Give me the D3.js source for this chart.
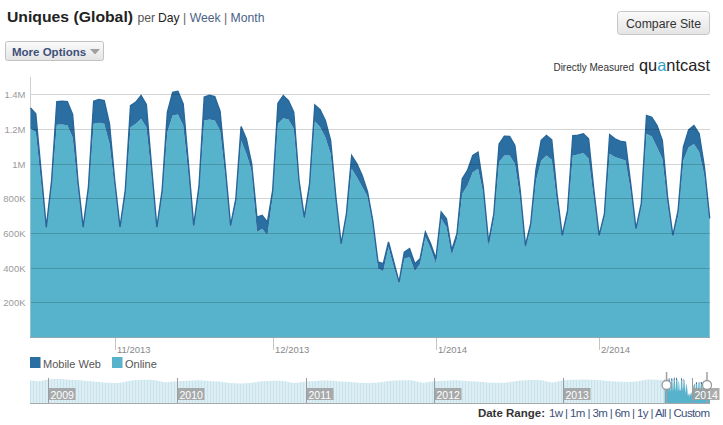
<!DOCTYPE html>
<html><head><meta charset="utf-8">
<script src="https://cdn.jsdelivr.net/npm/d3@7"></script>
<style>
body{margin:0;background:#fff;font-family:Arial,"Liberation Sans",sans-serif;}
svg{display:block}
</style></head><body>
<svg id="c" width="723" height="425"></svg>
<script>
// ---------- DATA ----------
const startDay = [2013, 9, 16]; // 16 Oct 2013, one value per day
const onlineK = [1201,1182,900,615,860,1224,1226,1222,1153,860,
618,830,1230,1236,1230,1115,865,618,815,1210,
1230,1259,1210,930,618,815,1182,1278,1284,1220,
940,625,835,1249,1255,1249,1191,930,628,770,
1134,1057,961,606,625,586,810,1230,1262,1255,
1201,870,673,850,1245,1211,1153,1057,780,528,
690,970,922,865,810,650,395,380,519,404,
308,452,461,380,423,577,509,423,682,634,
471,567,826,874,951,970,830,520,680,1009,
1047,1047,999,800,510,630,900,1018,1047,1022,
780,577,700,1047,1053,1061,1028,800,576,690,
1057,1038,1028,1018,840,615,745,1172,1157,1095,
1028,770,576,700,1018,1095,1114,1067,930,668];
const mobileWebK = [121,106,60,19,40,134,134,136,131,43,
16,35,130,134,134,115,38,16,31,125,
125,134,131,50,16,31,115,134,134,125,
59,19,35,135,140,138,112,50,16,27,
80,86,39,86,77,77,36,119,131,109,
96,33,19,34,94,101,96,77,27,10,
20,77,77,67,30,23,38,43,29,29,
9,38,49,43,29,29,29,29,39,48,
29,29,87,87,96,96,35,28,31,105,
112,110,106,46,19,24,65,116,116,116,
46,9,30,114,111,111,115,46,10,20,
111,105,102,106,44,10,24,106,111,125,
106,37,10,30,77,100,106,105,50,16];
const yTickValues = [200,400,600,800,1000,1200,1400];
const yTickLabels = ["200K","400K","600K","800K","1M","1.2M","1.4M"];
const seriesNames = ["Mobile Web","Online"];
// navigator history (monthly levels, K), Nov 2008 .. Sep 2013
const navStart = [2008, 10, 1];
const navHistoryK = [1250,1200,
1300,1320,1280,1250,1200,1150,1100,1150,1250,1280,1260,1150,
1200,1230,1250,1220,1180,1100,1080,1120,1200,1230,1220,1100,
1180,1220,1240,1200,1170,1120,1100,1140,1230,1260,1240,1120,
1200,1230,1250,1220,1190,1130,1120,1150,1240,1270,1250,1130,
1250,1280,1300,1270,1230,1180,1160,1200,1300];
const rangeLinks = "1w | 1m | 3m | 6m | 1y | All | Custom";

// ---------- STYLE ----------
const C_MOBILE = "#2b6ea1", C_ONLINE = "#57b3cc", C_EDGE = "#27679a";

const svg = d3.select("#c");
const defs = svg.append("defs");
const g1 = defs.append("linearGradient").attr("id","btn").attr("x1",0).attr("y1",0).attr("x2",0).attr("y2",1);
g1.append("stop").attr("offset","0%").attr("stop-color","#fbfbfb");
g1.append("stop").attr("offset","100%").attr("stop-color","#e4e4e4");
const pat = defs.append("pattern").attr("id","stripes").attr("width",3).attr("height",10).attr("patternUnits","userSpaceOnUse");
pat.append("rect").attr("width",3).attr("height",10).attr("fill","#dceef4");
pat.append("rect").attr("width",1).attr("height",10).attr("fill","#c8e4ed");

// ---------- HEADER ----------
svg.append("text").attr("x",7).attr("y",22).attr("font-size",15).attr("font-weight","bold")
  .attr("fill","#222").attr("textLength",126).attr("lengthAdjust","spacingAndGlyphs").text("Uniques (Global)");
const hdr = svg.append("text").attr("x",137.5).attr("y",22).attr("font-size",12.2).attr("fill","#555");
hdr.append("tspan").text("per ");
hdr.append("tspan").attr("x",158).attr("fill","#222").text("Day");
hdr.append("tspan").attr("fill","#666").text(" | ");
hdr.append("tspan").attr("fill","#4c5f86").text("Week");
hdr.append("tspan").attr("fill","#666").text(" | ");
hdr.append("tspan").attr("fill","#4c5f86").text("Month");

svg.append("rect").attr("x",5.5).attr("y",41.5).attr("width",98).attr("height",19).attr("rx",2)
  .attr("fill","url(#btn)").attr("stroke","#c2c2c2");
svg.append("text").attr("x",12).attr("y",55.5).attr("font-size",11.5).attr("font-weight","bold")
  .attr("fill","#3d5079").text("More Options");
svg.append("path").attr("d","M90,49 L100,49 L95,54.5 Z").attr("fill","#a0a0a0");

svg.append("rect").attr("x",617.5).attr("y",11.5).attr("width",92).attr("height",23).attr("rx",3)
  .attr("fill","url(#btn)").attr("stroke","#c6c6c6");
svg.append("text").attr("x",663.5).attr("y",28).attr("text-anchor","middle").attr("font-size",12.3)
  .attr("fill","#333").text("Compare Site");

svg.append("text").attr("x",634).attr("y",71).attr("text-anchor","end").attr("font-size",10)
  .attr("fill","#333").text("Directly Measured");
const logo = svg.append("text").attr("x",639).attr("y",71).attr("font-size",16.5).attr("fill","#222")
  .attr("textLength",71).attr("lengthAdjust","spacingAndGlyphs");
logo.append("tspan").text("qu");
logo.append("tspan").attr("fill","#2f9fcc").text("a");
logo.append("tspan").text("ntcast");

// ---------- MAIN CHART ----------
const P = {l:30.5, r:709.7, t:77, b:337};
const day0 = new Date(startDay[0], startDay[1], startDay[2]);
const data = onlineK.map((o,i)=>({date:d3.timeDay.offset(day0,i), online:o, mobile:mobileWebK[i]}));
const x = d3.scaleTime().domain(d3.extent(data,d=>d.date)).range([P.l,P.r]);
const y = d3.scaleLinear().domain([0,1500]).range([P.b,P.t]);

svg.append("line").attr("x1",30.5).attr("x2",30.5).attr("y1",P.t).attr("y2",P.b).attr("stroke","#d0d0d0");

const aOnline = d3.area().x(d=>x(d.date)).y0(y(0)).y1(d=>y(d.online));
const aMobile = d3.area().x(d=>x(d.date)).y0(d=>y(d.online)).y1(d=>y(d.online+d.mobile));
const lTop = d3.line().x(d=>x(d.date)).y(d=>y(d.online+d.mobile));
svg.append("path").datum(data).attr("d",aOnline).attr("fill",C_ONLINE);
svg.append("path").datum(data).attr("d",aMobile).attr("fill",C_MOBILE);
svg.append("path").datum(data).attr("d",lTop).attr("fill","none").attr("stroke",C_EDGE).attr("stroke-width",1.4);

yTickValues.forEach((v,i)=>{
  const yy = Math.round(y(v))+0.5;
  svg.append("line").attr("x1",31).attr("x2",710).attr("y1",yy).attr("y2",yy)
    .attr("stroke","rgba(0,0,0,0.17)");
  svg.append("text").attr("x",25.5).attr("y",yy+3.5).attr("text-anchor","end").attr("font-size",9.5)
    .attr("fill","#9a9a9a").text(yTickLabels[i]);
});
svg.append("line").attr("x1",30).attr("x2",710).attr("y1",P.b+0.5).attr("y2",P.b+0.5).attr("stroke","#8fa9b3");

const fmt = d3.timeFormat("%-m/%Y");
x.ticks(d3.timeMonth.every(1)).forEach(t=>{
  const xx = Math.round(x(t))+0.5;
  svg.append("line").attr("x1",xx).attr("x2",xx).attr("y1",P.b+1).attr("y2",P.b+13).attr("stroke","#c4c4c4");
  svg.append("text").attr("x",xx+1.5).attr("y",P.b+16).attr("font-size",9.5).attr("fill","#888").text(fmt(t));
});

// legend
[[C_MOBILE,30,43],[C_ONLINE,112,125]].forEach((c,i)=>{
  svg.append("rect").attr("x",c[1]).attr("y",357).attr("width",10.5).attr("height",11).attr("fill",c[0]);
  svg.append("text").attr("x",c[2]).attr("y",367.5).attr("font-size",11).attr("fill","#555").text(seriesNames[i]);
});

// ---------- NAVIGATOR ----------
const N = {l:30, r:710, t:374, b:403};
const navX = d3.scaleTime().domain([new Date(2008,10,10), new Date(2014,1,22)]).range([N.l,N.r]);
const navY = d3.scaleLinear().domain([0,1600]).range([N.b,N.t]);
const navStartDate = new Date(navStart[0],navStart[1],navStart[2]);
const hist = navHistoryK.map((v,i)=>({date:d3.timeMonth.offset(navStartDate,i), v}));
hist[0].date = navX.domain()[0];
hist.push({date:day0, v:1250});
svg.append("path").datum(hist)
  .attr("d",d3.area().curve(d3.curveMonotoneX).x(d=>navX(d.date)).y0(N.b).y1(d=>navY(d.v)))
  .attr("fill","url(#stripes)");
svg.append("path").datum(data)
  .attr("d",d3.area().x(d=>navX(d.date)).y0(N.b).y1(d=>navY(d.online)))
  .attr("fill",C_ONLINE);
svg.append("path").datum(data)
  .attr("d",d3.area().x(d=>navX(d.date)).y0(d=>navY(d.online)).y1(d=>navY(d.online+d.mobile)))
  .attr("fill",C_MOBILE);
svg.append("line").attr("x1",N.l).attr("x2",N.r).attr("y1",N.b+0.5).attr("y2",N.b+0.5).attr("stroke","#a9a9a9");

navX.ticks(d3.timeYear.every(1)).forEach(t=>{
  const xx = Math.round(navX(t))+0.5;
  svg.append("line").attr("x1",xx).attr("x2",xx).attr("y1",N.t+4).attr("y2",N.b).attr("stroke","#9c9c9c");
  svg.append("rect").attr("x",xx).attr("y",388).attr("width",27).attr("height",12).attr("fill","#9e9e9e").attr("opacity",0.85);
  svg.append("text").attr("x",xx+2).attr("y",398.5).attr("font-size",10.5).attr("fill","#fff").text(d3.timeFormat("%Y")(t));
});

[navX(data[0].date)+2, navX(data[data.length-1].date)-3].forEach(hx=>{
  svg.append("line").attr("x1",hx).attr("x2",hx).attr("y1",372).attr("y2",N.b).attr("stroke","#a0a0a0").attr("stroke-width",1.5);
  svg.append("circle").attr("cx",hx).attr("cy",385).attr("r",4.5).attr("fill","#fff").attr("stroke","#999").attr("stroke-width",1.3);
});

// date range
svg.append("text").attr("x",545).attr("y",417).attr("text-anchor","end").attr("font-size",11.5)
  .attr("font-weight","bold").attr("fill","#333").text("Date Range:");
svg.append("text").attr("x",549).attr("y",417).attr("font-size",11.5).attr("fill","#3d5079")
  .attr("textLength",161).attr("lengthAdjust","spacing").text(rangeLinks);
</script>
</body></html>
